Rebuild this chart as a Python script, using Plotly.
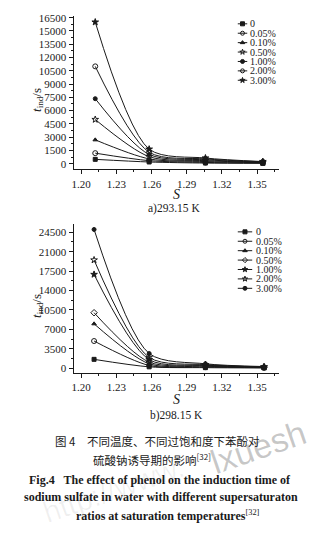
import plotly.graph_objects as go

W, H = 323, 535

# Phenol concentrations (series labels)
labels = ["0", "0.05%", "0.10%", "0.50%", "1.00%", "2.00%", "3.00%"]

# a) 293.15 K : supersaturation ratio S and induction time t_ind (s)
S_a = [1.212, 1.258, 1.306, 1.355]
tind_a = [
    [500, 200, 80, 50],
    [1200, 350, 150, 90],
    [2700, 550, 250, 120],
    [5000, 800, 350, 150],
    [7350, 1050, 450, 180],
    [11000, 1300, 550, 220],
    [16000, 1650, 650, 250],
]
symbols_a = ["square", "circle-open", "triangle-up", "star-open", "circle", "circle-open", "star"]

# b) 298.15 K
S_b = [1.211, 1.258, 1.306, 1.356]
tind_b = [
    [1600, 250, 100, 50],
    [4900, 500, 200, 100],
    [8000, 800, 350, 150],
    [10000, 1100, 450, 180],
    [16900, 1550, 550, 220],
    [19500, 1950, 650, 250],
    [25000, 2650, 800, 300],
]
symbols_b = ["square", "circle-open", "triangle-up", "diamond-open", "star", "star-open", "circle"]

# tick settings
x_ticks = dict(tick0=1.20, dtick=0.03, minor_dtick=0.015)
ya_ticks = dict(dtick=1500, minor=750)
yb_ticks = dict(dtick=3500, minor=1750)

SERIF = "Liberation Serif, Times New Roman, serif"
SANS = "Liberation Sans, Arial, sans-serif"
CJK = "Noto Sans CJK SC, sans-serif"
INK = "#1a1a1a"
MSIZE = 4


def px_x(p):
    return p / W


def px_y(p):
    return 1 - p / H


def msize(sym):
    return MSIZE + 1 if sym.startswith(("star", "circle-open", "diamond")) else MSIZE


fig = go.Figure()

# main curves
for k, lab in enumerate(labels):
    fig.add_trace(go.Scatter(
        x=S_a, y=tind_a[k], mode="lines+markers", name=lab,
        line=dict(color=INK, width=1, shape="spline", smoothing=0.8),
        marker=dict(symbol=symbols_a[k], size=msize(symbols_a[k]), color=INK,
                    line=dict(color=INK, width=1)),
        xaxis="x", yaxis="y", showlegend=False,
    ))
for k, lab in enumerate(labels):
    fig.add_trace(go.Scatter(
        x=S_b, y=tind_b[k], mode="lines+markers", name=lab,
        line=dict(color=INK, width=1, shape="spline", smoothing=0.8),
        marker=dict(symbol=symbols_b[k], size=msize(symbols_b[k]), color=INK,
                    line=dict(color=INK, width=1)),
        xaxis="x2", yaxis="y2", showlegend=False,
    ))

# compact legend keys drawn on their own small axes
for k, lab in enumerate(labels):
    fig.add_trace(go.Scatter(
        x=[0, 1], y=[k, k], mode="lines", line=dict(color=INK, width=1),
        xaxis="x3", yaxis="y3", showlegend=False, hoverinfo="skip",
    ))
    fig.add_trace(go.Scatter(
        x=[0.5], y=[k], mode="markers",
        marker=dict(symbol=symbols_a[k], size=MSIZE, color=INK, line=dict(color=INK, width=1)),
        xaxis="x3", yaxis="y3", showlegend=False, hoverinfo="skip",
    ))
    fig.add_trace(go.Scatter(
        x=[0, 1], y=[k, k], mode="lines", line=dict(color=INK, width=1),
        xaxis="x4", yaxis="y4", showlegend=False, hoverinfo="skip",
    ))
    fig.add_trace(go.Scatter(
        x=[0.5], y=[k], mode="markers",
        marker=dict(symbol=symbols_b[k], size=MSIZE, color=INK, line=dict(color=INK, width=1)),
        xaxis="x4", yaxis="y4", showlegend=False, hoverinfo="skip",
    ))

x_dom = [px_x(72), px_x(279)]
tickfont = dict(family=SERIF, size=11, color=INK)


def xaxis_cfg(anchor):
    return dict(
        domain=x_dom, anchor=anchor, range=[1.1935, 1.369],
        tick0=x_ticks["tick0"], dtick=x_ticks["dtick"], tickformat=".2f",
        ticks="outside", ticklen=4, tickwidth=1, tickcolor=INK,
        showline=True, linecolor=INK, linewidth=1, showgrid=False, zeroline=False,
        tickfont=tickfont,
        minor=dict(tick0=x_ticks["tick0"], dtick=x_ticks["minor_dtick"], ticks="outside",
                   ticklen=2, tickcolor=INK, showgrid=False),
    )


def yaxis_cfg(anchor, dom, rng, t):
    return dict(
        domain=dom, anchor=anchor, range=rng, tick0=0, dtick=t["dtick"],
        ticks="outside", ticklen=4, tickwidth=1, tickcolor=INK,
        showline=True, linecolor=INK, linewidth=1, showgrid=False, zeroline=False,
        tickfont=tickfont, tickformat="d",
        minor=dict(tick0=0, dtick=t["minor"], ticks="outside", ticklen=2,
                   tickcolor=INK, showgrid=False),
    )


hidden = dict(visible=False, showgrid=False, zeroline=False, fixedrange=True)
ROW = 9.5

fig.update_layout(
    width=W, height=H, autosize=False,
    margin=dict(l=0, r=0, t=0, b=0),
    paper_bgcolor="white", plot_bgcolor="rgba(0,0,0,0)",
    xaxis=xaxis_cfg("y"),
    yaxis=yaxis_cfg("x", [px_y(167), px_y(12)], [-640, 16700], ya_ticks),
    xaxis2=xaxis_cfg("y2"),
    yaxis2=yaxis_cfg("x2", [px_y(372.7), px_y(222)], [-900, 26000], yb_ticks),
    xaxis3=dict(domain=[px_x(237), px_x(247)], anchor="y3", range=[0, 1], **hidden),
    yaxis3=dict(domain=[px_y(20 + ROW * 6.5), px_y(20 - ROW * 0.5)], anchor="x3",
                range=[6.5, -0.5], **hidden),
    xaxis4=dict(domain=[px_x(237), px_x(252)], anchor="y4", range=[0, 1], **hidden),
    yaxis4=dict(domain=[px_y(230 + ROW * 6.5), px_y(230 - ROW * 0.5)], anchor="x4",
                range=[6.5, -0.5], **hidden),
)

ann = []
# legend labels
for k, lab in enumerate(labels):
    ann.append(dict(text=lab, x=px_x(247.5), y=k, xref="paper", yref="y3",
                    xanchor="left", yanchor="middle", showarrow=False,
                    font=dict(family=SERIF, size=10, color=INK)))
    ann.append(dict(text=lab, x=px_x(254), y=k, xref="paper", yref="y4",
                    xanchor="left", yanchor="middle", showarrow=False,
                    font=dict(family=SERIF, size=10, color=INK)))


def text_at(txt, x, y, size, family=SERIF, angle=0, color=INK):
    ann.append(dict(text=txt, x=px_x(x), y=px_y(y), xref="paper", yref="paper",
                    xanchor="center", yanchor="middle", showarrow=False, textangle=angle,
                    font=dict(family=family, size=size, color=color)))


# axis titles
text_at("<i>t</i><sub>ind</sub>/s", 35, 97, 13, angle=-90)
text_at("<i>t</i><sub>ind</sub>/s", 35, 305, 13, angle=-90)
text_at("<i>S</i>", 175.5, 192, 14)
text_at("<i>S</i>", 175.5, 399, 14)

# panel captions
text_at("a)293.15 K", 173, 206, 11.5)
text_at("b)298.15 K", 176, 415, 11.5)

# figure caption
text_at("图 4　不同温度、不同过饱和度下苯酚对", 156, 441, 11.5, family=CJK)
text_at("硫酸钠诱导期的影响<sup>[32]</sup>", 151, 460, 11.5, family=CJK)
text_at("<b>Fig.4   The effect of phenol on the induction time of</b>", 159, 480, 12)
text_at("<b>sodium sulfate in water with different supersaturaton</b>", 159.5, 497.5, 12)
text_at("<b>ratios at saturation temperatures</b><sup>[32]</sup>", 167.5, 516, 12)

# site watermark
text_at("http://www.", 112, 490, 30, family=SANS, angle=-19, color="rgba(0,0,0,0.06)")
text_at("lxuesh", 258, 447, 34, family=SANS, angle=-19, color="rgba(0,0,0,0.22)")

fig.update_layout(annotations=ann)

fig.write_html("out.html")
